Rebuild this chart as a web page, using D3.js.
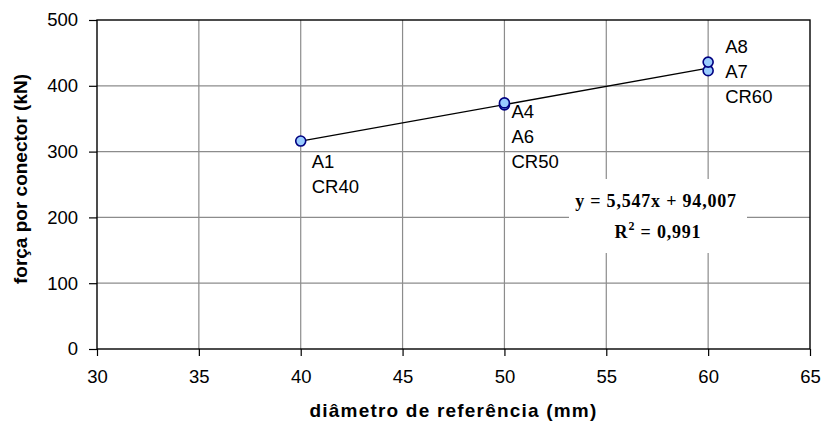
<html>
<head>
<script src="https://d3js.org/d3.v7.min.js"></script>
<style>
body { margin: 0; background: #fff; }
text { font-family: Arial, "Liberation Sans", sans-serif; }
</style>
</head>
<body>
<svg id="chart" width="823" height="423"></svg>
<script>
// data
var diam = [40, 50, 50, 60, 60];
var forca = [316, 371, 374, 423, 436];
var xTicks = [30, 35, 40, 45, 50, 55, 60, 65];
var yTicks = [0, 100, 200, 300, 400, 500];
var labelGroups = [
  {x: 40, y: 316, lines: ["A1", "CR40"]},
  {x: 50, y: 372, lines: ["A4", "A6", "CR50"]},
  {x: 60, y: 436, lines: ["A8", "A7", "CR60"]}
];
var slope = 5.547, intercept = 94.007;

var svg = d3.select("#chart");
var pLeft = 97, pRight = 810, pTop = 20, pBottom = 349;

var x = d3.scaleLinear().domain([30, 65]).range([pLeft, pRight]);
var y = d3.scaleLinear().domain([0, 500]).range([pBottom, pTop]);

// grid
svg.selectAll("line.vg").data(xTicks.slice(1, -1)).enter().append("line")
   .attr("x1", function(d) { return x(d); }).attr("x2", function(d) { return x(d); })
   .attr("y1", pTop).attr("y2", pBottom)
   .style("stroke", "#8c8c8c").style("stroke-width", 1.2);
svg.selectAll("line.hg").data(yTicks.slice(1, -1)).enter().append("line")
   .attr("x1", pLeft).attr("x2", pRight)
   .attr("y1", function(d) { return y(d); }).attr("y2", function(d) { return y(d); })
   .style("stroke", "#8c8c8c").style("stroke-width", 1.2);

// white box behind equation
svg.append("rect").attr("x", 569).attr("y", 179).attr("width", 178).attr("height", 74)
   .style("fill", "#fff");

// frame
svg.append("rect").attr("x", pLeft).attr("y", pTop).attr("width", pRight - pLeft).attr("height", pBottom - pTop)
   .style("fill", "none").style("stroke", "#000").style("stroke-width", 1.4);

// axes
var xAxis = d3.axisBottom(x).tickValues(xTicks).tickSize(7).tickPadding(14);
var yAxis = d3.axisLeft(y).tickValues(yTicks).tickSize(8).tickPadding(11);
var gx = svg.append("g").attr("transform", "translate(0," + pBottom + ")").call(xAxis);
var gy = svg.append("g").attr("transform", "translate(" + pLeft + ",0)").call(yAxis);
[gx, gy].forEach(function(g) {
  g.select(".domain").remove();
  g.selectAll("line").style("stroke", "#000").style("stroke-width", 1.2);
  g.selectAll("text").style("font-size", "18.5px").style("font-family", "Arial, 'Liberation Sans', sans-serif").style("fill", "#000");
});

// trendline
svg.append("line")
   .attr("x1", x(40)).attr("y1", y(slope * 40 + intercept))
   .attr("x2", x(60)).attr("y2", y(slope * 60 + intercept))
   .style("stroke", "#000").style("stroke-width", 1.4);

// points
svg.selectAll("circle").data(diam).enter().append("circle")
   .attr("cx", function(d) { return x(d); })
   .attr("cy", function(d, i) { return y(forca[i]); })
   .attr("r", 5)
   .style("fill", "#99ccff").style("stroke", "#000080").style("stroke-width", 1.6);

// point labels (offsets from the point, as placed in the original)
var labelOffset = {40: [11, 27], 50: [7, 14], 60: [17, -9]};
labelGroups.forEach(function(g) {
  var t = svg.append("text").style("font-size", "18.5px").style("fill", "#000");
  var off = labelOffset[g.x];
  g.lines.forEach(function(s, i) {
    t.append("tspan").attr("x", x(g.x) + off[0]).attr("y", y(g.y) + off[1] + i * 25).text(s);
  });
});

// equation
var eqFont = "'Liberation Serif', 'Times New Roman', serif";
svg.append("text").attr("x", 656).attr("y", 207).attr("text-anchor", "middle")
   .style("font-family", eqFont).style("font-weight", "bold").style("font-size", "18px")
   .style("letter-spacing", "0.8px")
   .text("y = 5,547x + 94,007");
var r2 = svg.append("text").attr("x", 658).attr("y", 238).attr("text-anchor", "middle")
   .style("font-family", eqFont).style("font-weight", "bold").style("font-size", "18px")
   .style("letter-spacing", "0.8px");
r2.append("tspan").text("R");
r2.append("tspan").attr("dy", -8).style("font-size", "12px").text("2");
r2.append("tspan").attr("dy", 8).text(" = 0,991");

// axis titles
svg.append("text").attr("transform", "translate(27,179) rotate(-90)")
   .attr("text-anchor", "middle").style("font-weight", "bold").style("font-size", "19px")
   .text("força por conector (kN)");
svg.append("text").attr("x", (pLeft + pRight) / 2).attr("y", 417)
   .attr("text-anchor", "middle").style("font-weight", "bold").style("font-size", "19px")
   .style("letter-spacing", "1.2px")
   .text("diâmetro de referência (mm)");
</script>
</body>
</html>
